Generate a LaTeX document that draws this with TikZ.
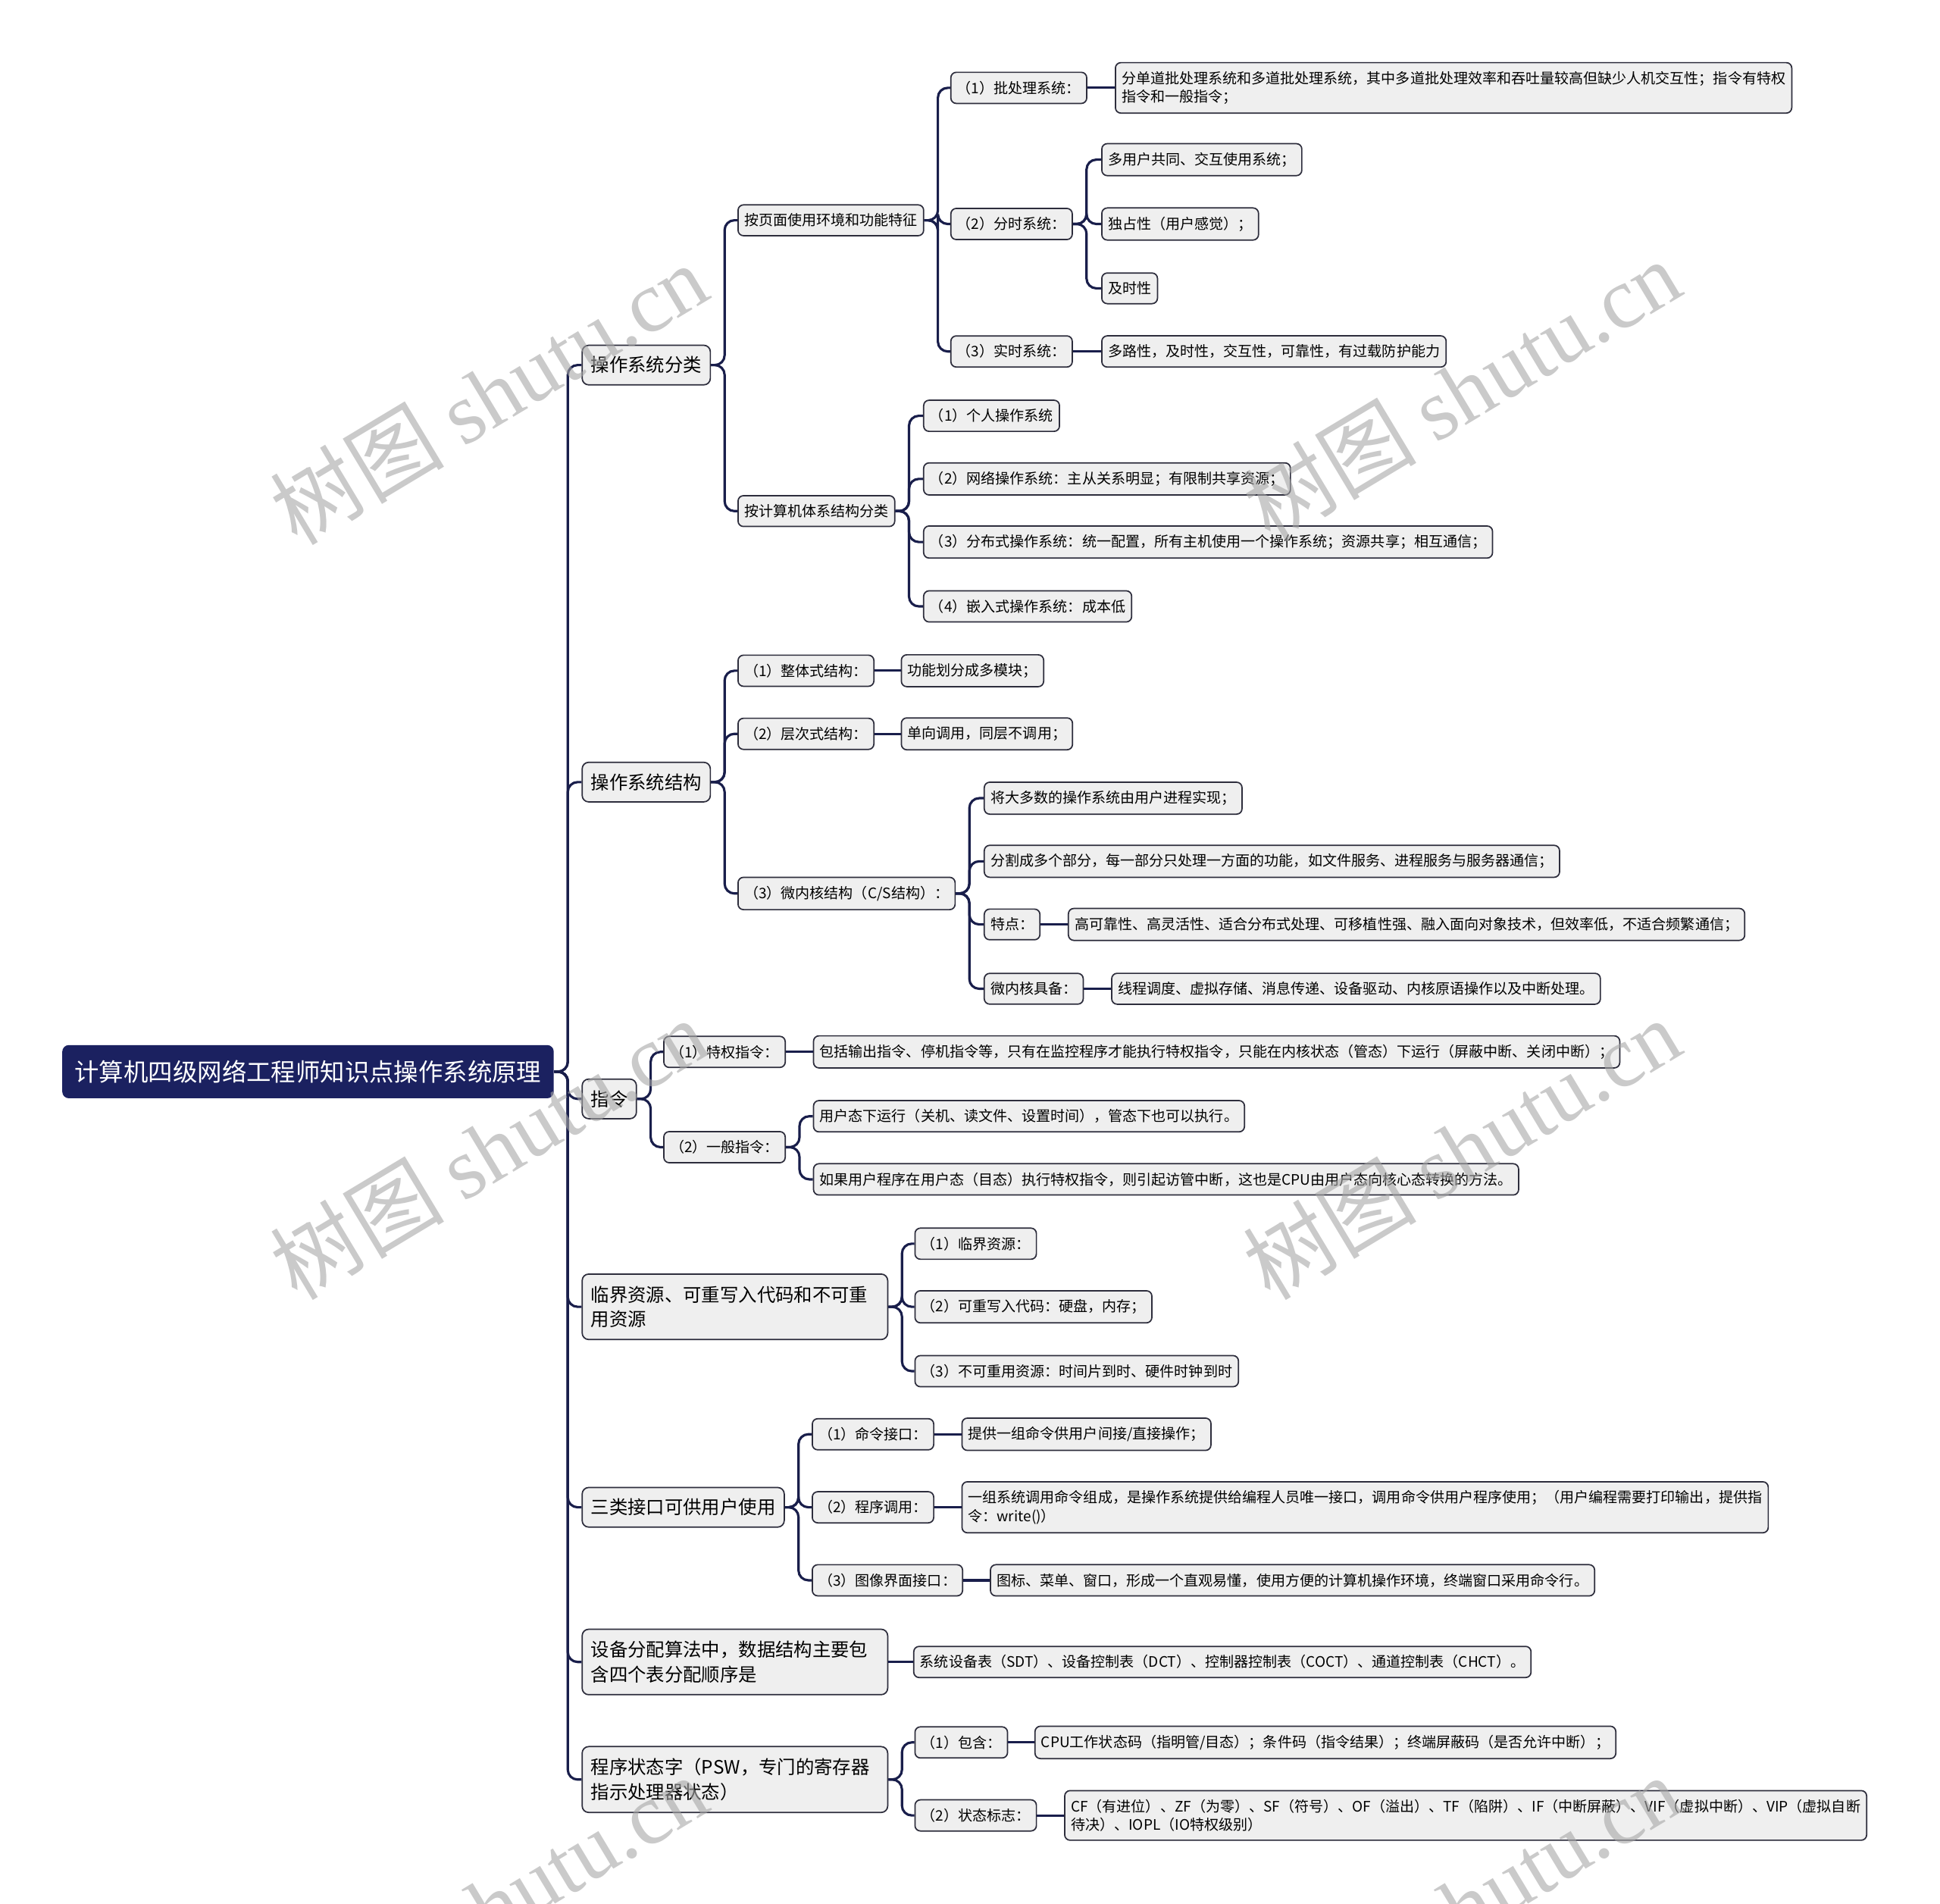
\documentclass[tikz,border=0pt]{standalone}
\usepackage{fontspec}
\setmainfont{Noto Sans CJK SC}
\newfontfamily\wmlatin{Liberation Serif}
\usepackage{tikz}

\definecolor{rootblue}{RGB}{27,33,96}
\definecolor{linkblue}{RGB}{25,30,75}
\definecolor{boxline}{RGB}{45,45,60}
\definecolor{boxfill}{RGB}{239,239,239}

\begin{document}
\begin{tikzpicture}[x=0.02cm,y=-0.02cm,
    rootbox/.style={anchor=west,fill=rootblue,text=white,rounded corners=3pt,
      font=\fontsize{11.3}{13}\selectfont,minimum height=0.86cm,inner xsep=0.2cm},
    topicbox/.style={anchor=west,draw=boxline,fill=boxfill,rounded corners=3pt,line width=0.6pt,
      font=\fontsize{8.5}{11.4}\selectfont,minimum height=0.64cm,inner xsep=0.14cm},
    topictwo/.style={topicbox,align=left,text width=4.66cm,inner ysep=5.4pt},
    itembox/.style={anchor=west,draw=boxline,fill=boxfill,rounded corners=2.5pt,line width=0.6pt,
      font=\fontsize{6.64}{8.5}\selectfont,minimum height=0.48cm,inner xsep=0.1cm,inner ysep=4pt,align=left},
    link/.style={draw=linkblue,line width=1.1pt,rounded corners=4.5pt},
    shuiyin/.style={text=black!35,opacity=0.6,rotate=31,font=\fontsize{40}{40}\selectfont}]
\useasboundingbox (0,0) rectangle (1568,1538);

% root and main branches
\draw (50,866) node[rootbox] (R) {计算机四级网络工程师知识点操作系统原理};
\draw (470,295) node[topicbox] (A) {操作系统分类};
\draw (470,632) node[topicbox] (B) {操作系统结构};
\draw (470,888) node[topicbox] (C) {指令};
\draw (470,1056) node[topictwo] (D) {临界资源、可重写入代码和不可重\\用资源};
\draw (470,1218) node[topicbox] (E) {三类接口可供用户使用};
\draw (470,1343) node[topictwo] (F) {设备分配算法中，数据结构主要包\\含四个表分配顺序是};
\draw (470,1438) node[topictwo] (G) {程序状态字（PSW，专门的寄存器\\指示处理器状态）};

% 操作系统分类
\draw (596,178) node[itembox] (A1) {按页面使用环境和功能特征};
\draw (596,413) node[itembox] (A2) {按计算机体系结构分类};
\draw (768,71) node[itembox] (A11) {（1）批处理系统：};
\draw (901,71) node[itembox] (A11x) {分单道批处理系统和多道批处理系统，其中多道批处理效率和吞吐量较高但缺少人机交互性；指令有特权\\指令和一般指令；};
\draw (768,181) node[itembox] (A12) {（2）分时系统：};
\draw (890,129) node[itembox] (A121) {多用户共同、交互使用系统；};
\draw (890,181) node[itembox] (A122) {独占性（用户感觉）；};
\draw (890,233) node[itembox] (A123) {及时性};
\draw (768,284) node[itembox] (A13) {（3）实时系统：};
\draw (890,284) node[itembox] (A13x) {多路性，及时性，交互性，可靠性，有过载防护能力};
\draw (746,336) node[itembox] (A21) {（1）个人操作系统};
\draw (746,387) node[itembox] (A22) {（2）网络操作系统：主从关系明显；有限制共享资源；};
\draw (746,438) node[itembox] (A23) {（3）分布式操作系统：统一配置，所有主机使用一个操作系统；资源共享；相互通信；};
\draw (746,490) node[itembox] (A24) {（4）嵌入式操作系统：成本低};

% 操作系统结构
\draw (596,542) node[itembox] (B1) {（1）整体式结构：};
\draw (728,542) node[itembox] (B1x) {功能划分成多模块；};
\draw (596,593) node[itembox] (B2) {（2）层次式结构：};
\draw (728,593) node[itembox] (B2x) {单向调用，同层不调用；};
\draw (596,722) node[itembox] (B3) {（3）微内核结构（C/S结构）：};
\draw (795,645) node[itembox] (B31) {将大多数的操作系统由用户进程实现；};
\draw (795,696) node[itembox] (B32) {分割成多个部分，每一部分只处理一方面的功能，如文件服务、进程服务与服务器通信；};
\draw (795,747) node[itembox] (B33) {特点：};
\draw (863,747) node[itembox] (B33x) {高可靠性、高灵活性、适合分布式处理、可移植性强、融入面向对象技术，但效率低，不适合频繁通信；};
\draw (795,799) node[itembox] (B34) {微内核具备：};
\draw (898,799) node[itembox] (B34x) {线程调度、虚拟存储、消息传递、设备驱动、内核原语操作以及中断处理。};

% 指令
\draw (536,850) node[itembox] (C1) {（1）特权指令：};
\draw (657,850) node[itembox] (C1x) {包括输出指令、停机指令等，只有在监控程序才能执行特权指令，只能在内核状态（管态）下运行（屏蔽中断、关闭中断）；};
\draw (536,927) node[itembox] (C2) {（2）一般指令：};
\draw (657,902) node[itembox] (C21) {用户态下运行（关机、读文件、设置时间），管态下也可以执行。};
\draw (657,953) node[itembox] (C22) {如果用户程序在用户态（目态）执行特权指令，则引起访管中断，这也是CPU由用户态向核心态转换的方法。};

% 资源
\draw (739,1005) node[itembox] (D1) {（1）临界资源：};
\draw (739,1056) node[itembox] (D2) {（2）可重写入代码：硬盘，内存；};
\draw (739,1108) node[itembox] (D3) {（3）不可重用资源：时间片到时、硬件时钟到时};

% 接口
\draw (656,1159) node[itembox] (E1) {（1）命令接口：};
\draw (777,1159) node[itembox] (E1x) {提供一组命令供用户间接/直接操作；};
\draw (656,1218) node[itembox] (E2) {（2）程序调用：};
\draw (777,1218) node[itembox] (E2x) {一组系统调用命令组成，是操作系统提供给编程人员唯一接口，调用命令供用户程序使用；（用户编程需要打印输出，提供指\\令：write()）};
\draw (656,1277) node[itembox] (E3) {（3）图像界面接口：};
\draw (800,1277) node[itembox] (E3x) {图标、菜单、窗口，形成一个直观易懂，使用方便的计算机操作环境，终端窗口采用命令行。};

% 设备分配, PSW
\draw (738,1343) node[itembox] (Fx) {系统设备表（SDT）、设备控制表（DCT）、控制器控制表（COCT）、通道控制表（CHCT）。};
\draw (739,1408) node[itembox] (G1) {（1）包含：};
\draw (836,1408) node[itembox] (G1x) {CPU工作状态码（指明管/目态）；条件码（指令结果）；终端屏蔽码（是否允许中断）；};
\draw (739,1467) node[itembox] (G2) {（2）状态标志：};
\draw (860,1467) node[itembox] (G2x) {CF（有进位）、ZF（为零）、SF（符号）、OF（溢出）、TF（陷阱）、IF（中断屏蔽）、VIF（虚拟中断）、VIP（虚拟自断\\待决）、IOPL（IO特权级别）};

% connectors
\draw[link] (R.east) -- ++(11,0) |- (A.west);
\draw[link] (R.east) -- ++(11,0) |- (B.west);
\draw[link] (R.east) -- ++(11,0) |- (C.west);
\draw[link] (R.east) -- ++(11,0) |- (D.west);
\draw[link] (R.east) -- ++(11,0) |- (E.west);
\draw[link] (R.east) -- ++(11,0) |- (F.west);
\draw[link] (R.east) -- ++(11,0) |- (G.west);

\draw[link] (A.east) -- ++(11,0) |- (A1.west);
\draw[link] (A.east) -- ++(11,0) |- (A2.west);
\draw[link] (A1.east) -- ++(11,0) |- (A11.west);
\draw[link] (A1.east) -- ++(11,0) |- (A12.west);
\draw[link] (A1.east) -- ++(11,0) |- (A13.west);
\draw[link] (A11.east) -- (A11x.west);
\draw[link] (A12.east) -- ++(11,0) |- (A121.west);
\draw[link] (A12.east) -- ++(11,0) |- (A122.west);
\draw[link] (A12.east) -- ++(11,0) |- (A123.west);
\draw[link] (A13.east) -- (A13x.west);
\draw[link] (A2.east) -- ++(11,0) |- (A21.west);
\draw[link] (A2.east) -- ++(11,0) |- (A22.west);
\draw[link] (A2.east) -- ++(11,0) |- (A23.west);
\draw[link] (A2.east) -- ++(11,0) |- (A24.west);

\draw[link] (B.east) -- ++(11,0) |- (B1.west);
\draw[link] (B.east) -- ++(11,0) |- (B2.west);
\draw[link] (B.east) -- ++(11,0) |- (B3.west);
\draw[link] (B1.east) -- (B1x.west);
\draw[link] (B2.east) -- (B2x.west);
\draw[link] (B3.east) -- ++(11,0) |- (B31.west);
\draw[link] (B3.east) -- ++(11,0) |- (B32.west);
\draw[link] (B3.east) -- ++(11,0) |- (B33.west);
\draw[link] (B3.east) -- ++(11,0) |- (B34.west);
\draw[link] (B33.east) -- (B33x.west);
\draw[link] (B34.east) -- (B34x.west);

\draw[link] (C.east) -- ++(11,0) |- (C1.west);
\draw[link] (C.east) -- ++(11,0) |- (C2.west);
\draw[link] (C1.east) -- (C1x.west);
\draw[link] (C2.east) -- ++(11,0) |- (C21.west);
\draw[link] (C2.east) -- ++(11,0) |- (C22.west);

\draw[link] (D.east) -- ++(11,0) |- (D1.west);
\draw[link] (D.east) -- ++(11,0) |- (D2.west);
\draw[link] (D.east) -- ++(11,0) |- (D3.west);

\draw[link] (E.east) -- ++(11,0) |- (E1.west);
\draw[link] (E.east) -- ++(11,0) |- (E2.west);
\draw[link] (E.east) -- ++(11,0) |- (E3.west);
\draw[link] (E1.east) -- (E1x.west);
\draw[link] (E2.east) -- (E2x.west);
\draw[link] (E3.east) -- (E3x.west);

\draw[link] (F.east) -- (Fx.west);

\draw[link] (G.east) -- ++(11,0) |- (G1.west);
\draw[link] (G.east) -- ++(11,0) |- (G2.west);
\draw[link] (G1.east) -- (G1x.west);
\draw[link] (G2.east) -- (G2x.west);

% watermarks
\begin{scope}
\clip (0,0) rectangle (1568,1538);
\node[shuiyin] (w1) at (395,318) {树图 {\wmlatin shutu.cn}};
\node[shuiyin] (w2) at (1181,315) {树图 {\wmlatin shutu.cn}};
\node[shuiyin] (w3) at (395,928) {树图 {\wmlatin shutu.cn}};
\node[shuiyin] (w4) at (1181,928) {树图 {\wmlatin shutu.cn}};
\node[shuiyin] (w5) at (395,1540) {树图 {\wmlatin shutu.cn}};
\node[shuiyin] (w6) at (1181,1540) {树图 {\wmlatin shutu.cn}};
\end{scope}
\end{tikzpicture}
\end{document}
